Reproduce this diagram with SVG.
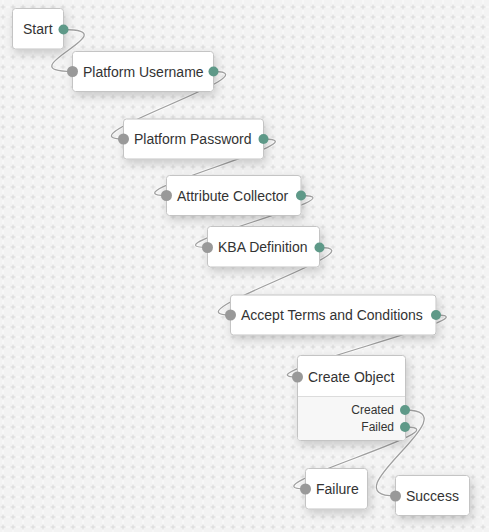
<svg xmlns="http://www.w3.org/2000/svg" width="489" height="532" viewBox="0 0 489 532">
<defs>
<pattern id="grid" x="2.5" y="6.5" width="10" height="10" patternUnits="userSpaceOnUse">
<rect width="10" height="10" fill="#f3f3f3"/>
<path d="M0.5 0V10M0 0.5H10" stroke="#fafafa" stroke-width="1"/>
<path d="M0.5 -2V3M-2 0.5H3M10.5 -2V3M8 0.5H13M0.5 8V13M-2 10.5H3M10.5 8V13M8 10.5H13" stroke="#dadada" stroke-width="1"/>
</pattern>
<filter id="sh" x="-30%" y="-40%" width="160%" height="200%">
<feDropShadow dx="2" dy="4" stdDeviation="5" flood-color="#000" flood-opacity="0.18"/>
</filter>
</defs>
<style>
.box{fill:#fff;stroke:#c4c4c4;stroke-width:1;filter:url(#sh)}
.lbl{font-family:"Liberation Sans",Arial,sans-serif;font-size:14px;fill:#333}
.out{font-family:"Liberation Sans",Arial,sans-serif;font-size:12px;fill:#333;text-anchor:end}
.in{fill:#999}
.op{fill:#5e9988}
.cn path{fill:none}
.halo{stroke:#fff;stroke-width:3;stroke-opacity:0.7}
.ln{stroke:#a0a0a0;stroke-width:1.3}
</style>
<rect width="489" height="532" fill="url(#grid)"/>
<g id="connectors" class="cn">
<g class="halo">
<path d="M63.5 29.5C131.5 29.5 4.5 71.5 72.5 71.5"/>
<path d="M213.5 71.5C278.5 71.5 58.5 139 123.5 139"/>
<path d="M263.5 139C328.5 139 101.5 195.5 166.5 195.5"/>
<path d="M301 195.5C366 195.5 142.5 247.5 207.5 247.5"/>
<path d="M319.5 247.5C384.5 247.5 165.5 315 230.5 315"/>
<path d="M436 315C501 315 232.5 377 297.5 377"/>
<path d="M405 410C475 410 325.5 496 395.5 496"/>
<path d="M405 427C470 427 240.5 489 305.5 489"/>
</g>
<g class="ln">
<path d="M63.5 29.5C131.5 29.5 4.5 71.5 72.5 71.5"/>
<path d="M213.5 71.5C278.5 71.5 58.5 139 123.5 139"/>
<path d="M263.5 139C328.5 139 101.5 195.5 166.5 195.5"/>
<path d="M301 195.5C366 195.5 142.5 247.5 207.5 247.5"/>
<path d="M319.5 247.5C384.5 247.5 165.5 315 230.5 315"/>
<path d="M436 315C501 315 232.5 377 297.5 377"/>
<path d="M405 410C475 410 325.5 496 395.5 496"/>
<path d="M405 427C470 427 240.5 489 305.5 489"/>
</g>
</g>
<g id="node-start"><rect class="box" x="12.5" y="8.5" width="51" height="40.5" rx="3"/><text class="lbl" x="23" y="34">Start</text><circle class="op" cx="63.5" cy="29.5" r="5"/></g>
<g id="node-username"><rect class="box" x="72.5" y="51.5" width="141" height="40" rx="3"/><text class="lbl" x="83" y="76.5">Platform Username</text><circle class="in" cx="72.5" cy="71.5" r="5.5"/><circle class="op" cx="213.5" cy="71.5" r="5"/></g>
<g id="node-password"><rect class="box" x="123.5" y="119" width="140" height="40" rx="3"/><text class="lbl" x="134" y="144">Platform Password</text><circle class="in" cx="123.5" cy="139" r="5.5"/><circle class="op" cx="263.5" cy="139" r="5"/></g>
<g id="node-attribute"><rect class="box" x="166.5" y="175.5" width="134.5" height="40" rx="3"/><text class="lbl" x="177" y="200.5">Attribute Collector</text><circle class="in" cx="166.5" cy="195.5" r="5.5"/><circle class="op" cx="301" cy="195.5" r="5"/></g>
<g id="node-kba"><rect class="box" x="207.5" y="226.5" width="112" height="40.5" rx="3"/><text class="lbl" x="218" y="252">KBA Definition</text><circle class="in" cx="207.5" cy="247.5" r="5.5"/><circle class="op" cx="319.5" cy="247.5" r="5"/></g>
<g id="node-terms"><rect class="box" x="230.5" y="295" width="205.5" height="40" rx="3"/><text class="lbl" x="241" y="320">Accept Terms and Conditions</text><circle class="in" cx="230.5" cy="315" r="5.5"/><circle class="op" cx="436" cy="315" r="5"/></g>
<g id="node-create"><rect class="box" x="297.5" y="355.5" width="108" height="85" rx="3"/><path d="M298 396.5H405V437.5a2.5 2.5 0 0 1-2.5 2.5H300.5a2.5 2.5 0 0 1-2.5-2.5Z" fill="#f7f7f7"/><path d="M298 396.5H405" stroke="#dcdcdc" stroke-width="1"/><text class="lbl" x="308" y="382">Create Object</text><circle class="in" cx="297.5" cy="377" r="5.5"/><text class="out" x="394" y="414">Created</text><text class="out" x="394" y="431">Failed</text><circle class="op" cx="405" cy="410" r="5"/><circle class="op" cx="405" cy="427" r="5"/></g>
<g id="node-failure"><rect class="box" x="305.5" y="468.5" width="62" height="40.5" rx="3"/><text class="lbl" x="316" y="494">Failure</text><circle class="in" cx="305.5" cy="489" r="5.5"/></g>
<g id="node-success"><rect class="box" x="395.5" y="475.5" width="74" height="40" rx="3"/><text class="lbl" x="406" y="501">Success</text><circle class="in" cx="395.5" cy="496" r="5.5"/></g>
</svg>
